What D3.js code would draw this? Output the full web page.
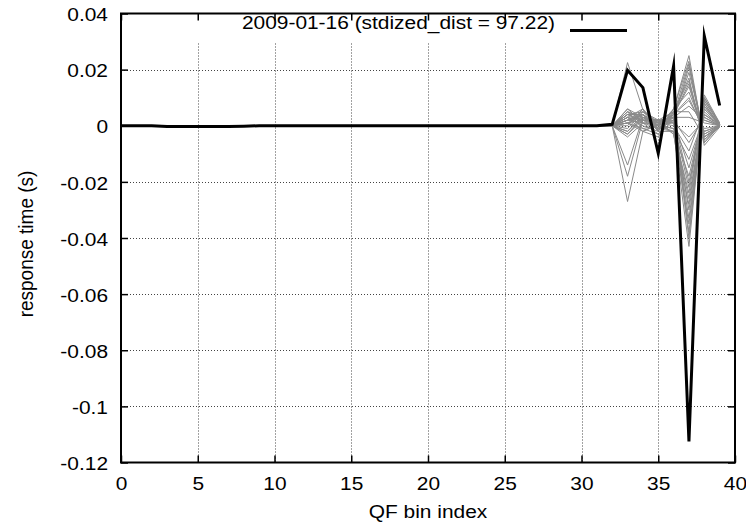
<!DOCTYPE html>
<html><head><meta charset="utf-8">
<script src="https://cdn.jsdelivr.net/npm/d3@7"></script>
<style>
html,body{margin:0;padding:0;background:#fff;}
svg{display:block;}
text{font-family:"Liberation Sans",Arial,Helvetica,sans-serif;fill:#000;}
</style></head>
<body><svg id="chart" width="746" height="527"></svg>
<script>
// ---- data ----
const xTicks = [0,5,10,15,20,25,30,35,40];
const yTicks = [0.04,0.02,0,-0.02,-0.04,-0.06,-0.08,-0.1,-0.12];
const yTickLabels = ["0.04","0.02","0","-0.02","-0.04","-0.06","-0.08","-0.1","-0.12"];
const legendLabel = "2009-01-16 (stdized_dist = 97.22)";
const xLabel = "QF bin index";
const yLabel = "response time (s)";
// highlighted series: bins 0..39
const blackSeries = [0,0,0,-0.0003,-0.0003,-0.0003,-0.0003,-0.0003,-0.0002,0,
  0,0,0,0,0,0,0,0,0,0,
  0,0,0,0,0,0,0,0,0,0,
  0,0,0.0005,0.0198,0.0136,-0.0098,0.0213,-0.1125,0.032,0.0072];
// reference series: bins 0..31 are 0; values listed for bins 32..39
const grayTails = [
  [0, 0.0225, 0.0057, 0.001, 0.003, -0.020, 0.004, 0.0005],
  [0, -0.027, -0.002, 0.0005, 0.004, 0.015, -0.005, 0],
  [0, -0.014, 0.003, -0.001, -0.002, -0.043, 0.011, 0.001],
  [0, 0.004, 0.005, 0.002, 0.005, -0.038, 0.009, 0.0005],
  [0, 0.003, 0.006, -0.002, 0.006, 0.025, -0.006, 0],
  [0, -0.003, 0.002, 0.001, -0.003, -0.035, 0.008, 0],
  [0, 0.005, -0.001, -0.003, 0.004, 0.022, -0.004, -0.0005],
  [0, 0.002, 0.003, 0.0015, 0.002, -0.030, 0.007, 0.0005],
  [0, -0.002, 0.004, -0.001, 0.003, 0.019, -0.003, 0],
  [0, 0.006, 0.001, 0.0005, -0.001, -0.026, 0.006, 0],
  [0, 0.001, -0.002, -0.004, 0.005, 0.017, -0.007, -0.0005],
  [0, 0.004, 0.002, 0.002, 0.001, -0.022, 0.010, 0.001],
  [0, -0.001, 0.005, 0.0, 0.006, 0.012, -0.002, 0],
  [0, 0.003, 0.0, -0.002, -0.002, -0.018, 0.005, 0],
  [0, 0.002, 0.004, 0.001, 0.004, 0.009, -0.001, 0],
  [0, -0.004, 0.001, -0.001, 0.002, -0.015, 0.004, 0],
  [0, 0.005, 0.003, 0.002, 0.003, 0.007, 0.002, 0],
  [0, 0.001, -0.001, 0.0, -0.001, -0.012, 0.003, 0],
  [0, 0.003, 0.002, -0.0015, 0.005, 0.005, -0.004, 0],
  [0, -0.002, 0.003, 0.001, 0.0, -0.009, 0.006, 0.0005],
  [0, 0.004, 0.004, 0.0, 0.002, 0.021, -0.005, 0],
  [0, 0.002, 0.001, 0.001, 0.003, -0.040, 0.010, 0.0005],
  [0, 0.0, 0.006, -0.001, 0.004, 0.014, -0.003, 0],
  [0, 0.005, 0.002, 0.002, -0.003, -0.028, 0.007, 0],
  [0, 0.001, 0.004, -0.002, 0.006, 0.023, -0.006, 0],
  [0, 0.003, -0.002, 0.0005, 0.001, -0.033, 0.008, 0],
  [0, -0.003, 0.003, 0.0, 0.004, 0.010, -0.002, 0],
  [0, 0.004, 0.001, -0.003, 0.002, -0.006, 0.003, 0],
  [0, 0.002, 0.005, 0.001, 0.005, 0.016, -0.004, 0],
  [0, -0.018, 0.002, 0.0, -0.002, -0.024, 0.009, 0.0005],
  [0, 0.006, 0.003, -0.001, 0.003, 0.003, 0.001, 0],
  [0, 0.001, 0.002, 0.002, 0.001, -0.004, 0.002, 0]
];
const tailStart = 32;

// ---- layout ----
const L = 121, R = 735, T = 13.5, B = 462.5;
const FS = 19, SX = 1.1;
const svg = d3.select("#chart");
const x = d3.scaleLinear().domain([0,40]).range([L,R]);
const y = d3.scaleLinear().domain([-0.12,0.04]).range([B,T]);

// grid
const grid = svg.append("g").attr("stroke","#444").attr("stroke-width",1).attr("stroke-dasharray","1,2");
grid.selectAll("line.v").data(xTicks.filter(d=>d>0&&d<40)).join("line")
  .attr("x1",d=>Math.round(x(d))+0.5).attr("x2",d=>Math.round(x(d))+0.5).attr("y1",T).attr("y2",B);
grid.selectAll("line.h").data(yTicks.filter(d=>d<0.04&&d>-0.12)).join("line")
  .attr("y1",d=>Math.round(y(d))+0.5).attr("y2",d=>Math.round(y(d))+0.5).attr("x1",L).attr("x2",R);

// legend background (opaque key)
svg.append("rect").attr("x",165).attr("y",T+1).attr("width",478).attr("height",28).attr("fill","#fff");

// lines
const line = d3.line().x(d=>x(d[0])).y(d=>y(d[1]));
const graySeries = grayTails.map(t => {
  const pts = [];
  for (let i=0;i<tailStart;i++) pts.push([i,0]);
  t.forEach((v,k)=>pts.push([tailStart+k,v]));
  return pts;
});
svg.append("g").selectAll("path").data(graySeries).join("path")
  .attr("d",line).attr("fill","none").attr("stroke","#8a8a8a").attr("stroke-width",1);
svg.append("path").datum(blackSeries.map((v,i)=>[i,v])).attr("d",line)
  .attr("fill","none").attr("stroke","#000").attr("stroke-width",3)
  .attr("stroke-linejoin","miter").attr("stroke-miterlimit",20);

// axes
const styleAxis = g => { g.select(".domain").remove(); g.selectAll(".tick line").attr("stroke","#000").attr("stroke-width",1.5); };
svg.append("g").attr("transform",`translate(0,${B})`)
  .call(d3.axisBottom(x).tickValues(xTicks).tickSize(-7).tickPadding(14).tickFormat(d3.format("d")))
  .call(styleAxis)
  .call(g=>g.selectAll("text").attr("font-size",FS).attr("font-family",null).attr("dy","0.71em")
     .attr("transform",`scale(${SX},1)`).attr("y",14));
svg.append("g").attr("transform",`translate(0,${T})`)
  .call(d3.axisTop(x).tickValues(xTicks).tickSize(-7).tickFormat(""))
  .call(styleAxis);
svg.append("g").attr("transform",`translate(${L},0)`)
  .call(d3.axisLeft(y).tickValues(yTicks).tickSize(-7).tickPadding(13).tickFormat((d,i)=>yTickLabels[i]))
  .call(styleAxis)
  .call(g=>g.selectAll("text").attr("font-size",FS).attr("font-family",null).attr("dy","0.38em")
     .attr("x",-13/SX).attr("transform",`scale(${SX},1)`));
svg.append("g").attr("transform",`translate(${R},0)`)
  .call(d3.axisRight(y).tickValues(yTicks).tickSize(-7).tickFormat(""))
  .call(styleAxis);

// border
svg.append("rect").attr("x",L).attr("y",T).attr("width",R-L).attr("height",B-T)
  .attr("fill","none").attr("stroke","#000").attr("stroke-width",2);

// labels
svg.append("text").attr("transform",`translate(${(L+R)/2},518) scale(${SX},1)`)
  .attr("text-anchor","middle").attr("font-size",FS).text(xLabel);
svg.append("text").attr("transform",`translate(33,244) scale(${SX},1) rotate(-90)`)
  .attr("text-anchor","middle").attr("font-size",FS).text(yLabel);

// legend
svg.append("text").attr("transform",`translate(555,28.5) scale(${SX},1)`)
  .attr("text-anchor","end").attr("font-size",FS).text(legendLabel);
svg.append("line").attr("x1",570).attr("x2",627).attr("y1",30.5).attr("y2",30.5)
  .attr("stroke","#000").attr("stroke-width",3);
</script></body></html>
